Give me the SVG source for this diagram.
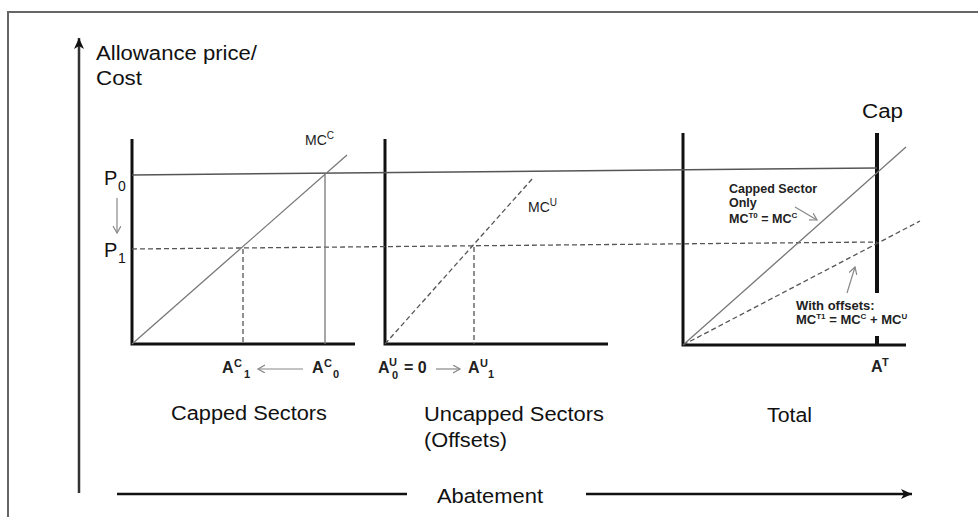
<svg xmlns="http://www.w3.org/2000/svg" width="978" height="517" viewBox="0 0 978 517">
<style>
text{font-family:"Liberation Sans",Arial,Helvetica,sans-serif;fill:#111}
.big{font-size:20px}
.mc{font-size:14px;fill:#222}
.ab{font-size:16px;font-weight:bold;fill:#222}
.abs{font-size:11px;font-weight:bold;fill:#222}
.note{font-size:12.5px;font-weight:bold;fill:#222}
.ax{stroke:#111;stroke-width:3;fill:none}
.curve{stroke:#777;stroke-width:1.3;fill:none}
.price{stroke:#555;stroke-width:1.5;fill:none}
.dash{stroke:#555;stroke-width:1.3;fill:none;stroke-dasharray:5 3}
.garrow{stroke:#888;stroke-width:1.2;fill:none}
</style>
<defs>
<marker id="chev" markerUnits="userSpaceOnUse" markerWidth="10" markerHeight="10" refX="7" refY="4" orient="auto">
<path d="M0,0 L7,4 L0,8" fill="none" stroke="#888" stroke-width="1.2"/>
</marker>
<marker id="blk" markerUnits="userSpaceOnUse" markerWidth="12" markerHeight="10" refX="11" refY="5" orient="auto">
<path d="M0,0 L11,5 L0,10 L3,5 Z" fill="#111"/>
</marker>
</defs>

<g id="frame">
<path d="M8,517 L8,12 L978,12" fill="none" stroke="#666" stroke-width="2"/>
</g>

<g id="y-axis">
<line x1="79" y1="493" x2="79" y2="38" stroke="#333" stroke-width="2.5" marker-end="url(#blk)"/>
<text class="big" x="96" y="60" textLength="161" lengthAdjust="spacingAndGlyphs">Allowance price/</text>
<text class="big" x="96" y="85" textLength="46" lengthAdjust="spacingAndGlyphs">Cost</text>
</g>

<g id="x-axis">
<line x1="117" y1="494" x2="407" y2="494" stroke="#111" stroke-width="2.5"/>
<line x1="586" y1="494" x2="912" y2="494" stroke="#111" stroke-width="2.5" marker-end="url(#blk)"/>
<text class="big" x="437" y="503" textLength="106" lengthAdjust="spacingAndGlyphs">Abatement</text>
</g>

<g id="price-labels">
<text class="big" x="104" y="185">P</text>
<text style="font-size:14px" x="118" y="191">0</text>
<text class="big" x="104" y="257">P</text>
<text style="font-size:14px" x="118" y="263">1</text>
</g>

<g id="capped-panel">
<path class="ax" d="M132,139 L132,344 L355,344"/>
<text class="mc" x="305" y="145">MC<tspan dy="-6" font-size="10">C</tspan></text>
<text class="ab" x="222" y="373">A</text><text class="abs" x="234" y="367">C</text><text class="abs" x="244" y="378">1</text>
<text class="ab" x="312" y="373">A</text><text class="abs" x="324" y="367">C</text><text class="abs" x="333" y="378">0</text>
<text class="big" x="171" y="420" textLength="156" lengthAdjust="spacingAndGlyphs">Capped Sectors</text>
</g>

<g id="uncapped-panel">
<path class="ax" d="M385,139 L385,344 L608,344"/>
<text class="mc" x="528" y="212">MC<tspan dy="-6" font-size="10">U</tspan></text>
<text class="ab" x="378" y="373">A</text><text class="abs" x="389" y="366">U</text><text class="abs" x="392" y="379">0</text>
<text class="ab" x="404" y="373">= 0</text>
<text class="ab" x="468" y="373">A</text><text class="abs" x="480" y="367">U</text><text class="abs" x="488" y="378">1</text>
<text class="big" x="424" y="421" textLength="180" lengthAdjust="spacingAndGlyphs">Uncapped Sectors</text>
<text class="big" x="424" y="447" textLength="83" lengthAdjust="spacingAndGlyphs">(Offsets)</text>
</g>

<g id="total-panel">
<path class="ax" d="M683,133 L683,345 L906,345"/>
<line x1="877" y1="133" x2="877" y2="293" stroke="#111" stroke-width="4"/>
<line x1="877" y1="336" x2="877" y2="345" stroke="#111" stroke-width="4"/>
<text class="big" x="862" y="118" textLength="41" lengthAdjust="spacingAndGlyphs">Cap</text>
<text class="note" x="729" y="193">Capped Sector</text>
<text class="note" x="729" y="207">Only</text>
<text class="note" x="729" y="223">MC<tspan dy="-5" font-size="8">T0</tspan><tspan dy="5"> = MC</tspan><tspan dy="-5" font-size="8">C</tspan></text>
<text class="note" x="796" y="310" style="font-size:13px">With offsets:</text>
<text class="note" x="796" y="324" style="font-size:13px">MC<tspan dy="-5" font-size="8">T1</tspan><tspan dy="5"> = MC</tspan><tspan dy="-5" font-size="8">C</tspan><tspan dy="5"> + MC</tspan><tspan dy="-5" font-size="8">U</tspan></text>
<text class="ab" x="871" y="372">A</text><text class="abs" x="882" y="366">T</text>
<text class="big" x="767" y="422" textLength="45" lengthAdjust="spacingAndGlyphs">Total</text>
</g>

<g id="connectors">
<line class="price" x1="132" y1="175" x2="877" y2="168"/>
<line class="dash" x1="132" y1="249" x2="877" y2="242"/>
<line class="curve" x1="132" y1="344" x2="347" y2="155"/>
<line class="curve" x1="325" y1="175" x2="325" y2="344"/>
<line class="dash" x1="243" y1="249" x2="243" y2="344"/>
<line class="dash" x1="385" y1="344" x2="533" y2="178"/>
<line class="dash" x1="474" y1="247" x2="474" y2="344"/>
<line class="curve" x1="683" y1="345" x2="906" y2="147"/>
<line class="dash" x1="683" y1="345" x2="920" y2="221"/>
<line class="garrow" x1="117" y1="198" x2="117" y2="233" marker-end="url(#chev)"/>
<line class="garrow" x1="303" y1="369" x2="258" y2="369" marker-end="url(#chev)"/>
<line class="garrow" x1="436" y1="369" x2="460" y2="369" marker-end="url(#chev)"/>
<line class="garrow" x1="795" y1="207" x2="817" y2="220" marker-end="url(#chev)"/>
<line class="garrow" x1="847" y1="293" x2="855" y2="267" marker-end="url(#chev)"/>
</g>
</svg>
